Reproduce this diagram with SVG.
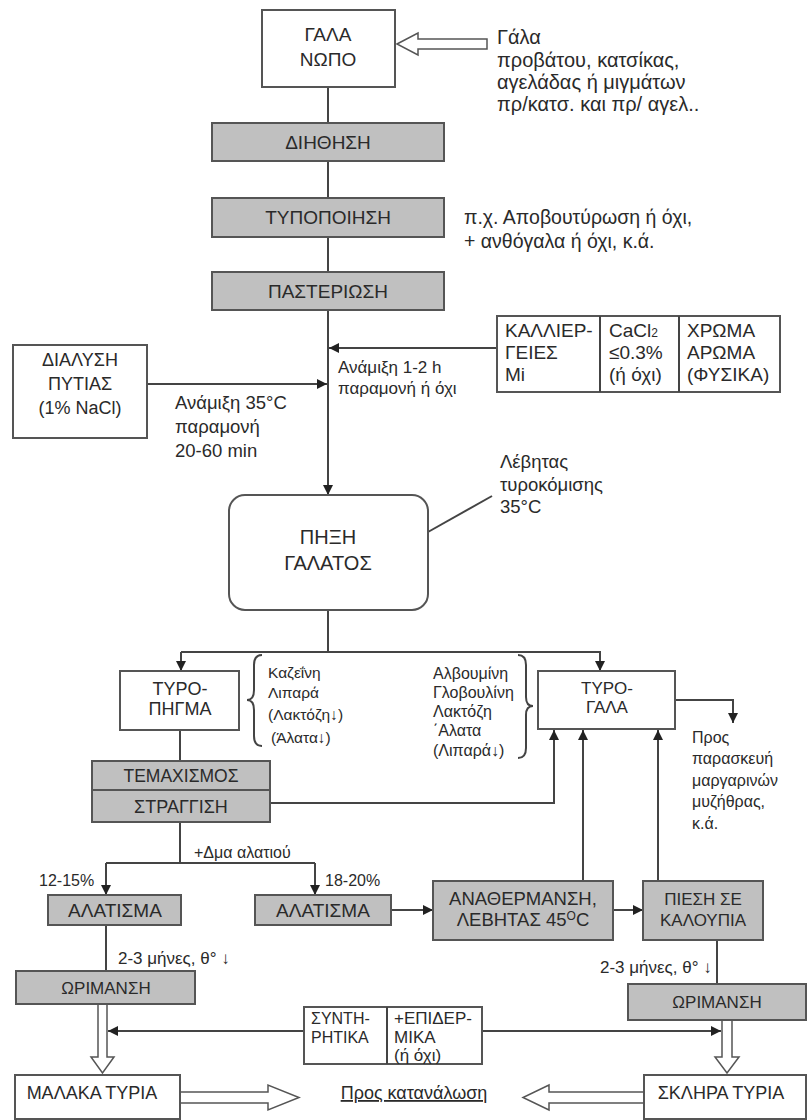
<svg xmlns="http://www.w3.org/2000/svg" width="808" height="1120" viewBox="0 0 808 1120">
<defs>
<style>
.box{fill:#fff;stroke:#555;stroke-width:2}
.gbox{fill:#c0c0c0;stroke:#555;stroke-width:2}
.ln{fill:none;stroke:#444;stroke-width:2}
.ha{fill:#fff;stroke:#555;stroke-width:1.5}
text{font-family:"Liberation Sans",Arial,sans-serif;fill:#2a2a2a}
.c{text-anchor:middle}
.b{font-size:19px}
.l{font-size:18px}
.m{font-size:17px}
.s{font-size:16px}
.xs{font-size:15px}
</style>
<marker id="ar" viewBox="0 0 10 10" refX="10" refY="5" markerWidth="10" markerHeight="10" markerUnits="userSpaceOnUse" orient="auto">
<path d="M0,0 L10,5 L0,10 z" fill="#222"/>
</marker>
</defs>

<g id="connectors">
<path class="ln" d="M328,87 V123"/>
<path class="ln" d="M328,161 V198"/>
<path class="ln" d="M328,237 V272"/>
<path class="ln" d="M328,310 V495" marker-end="url(#ar)"/>
<path class="ln" d="M497,348 H329" marker-end="url(#ar)"/>
<path class="ln" d="M147,384 H327" marker-end="url(#ar)"/>
<path class="ln" d="M428,532 L492,496"/>
<path class="ln" d="M328,610 V652 M181,652 H601"/>
<path class="ln" d="M181,652 V671" marker-end="url(#ar)"/>
<path class="ln" d="M600,652 V671" marker-end="url(#ar)"/>
<path class="ln" d="M180,730 V761"/>
<path class="ln" d="M270,803 H554 V730" marker-end="url(#ar)"/>
<path class="ln" d="M675,700 H733 V723" marker-end="url(#ar)"/>
<path class="ln" d="M180,822 V863 M106,863 H315"/>
<path class="ln" d="M106,863 V895" marker-end="url(#ar)"/>
<path class="ln" d="M315,863 V895" marker-end="url(#ar)"/>
<path class="ln" d="M391,910 H433" marker-end="url(#ar)"/>
<path class="ln" d="M613,910 H643" marker-end="url(#ar)"/>
<path class="ln" d="M583,881 V730" marker-end="url(#ar)"/>
<path class="ln" d="M658,881 V730" marker-end="url(#ar)"/>
<path class="ln" d="M106,925 V971"/>
<path class="ln" d="M717,940 V984"/>
<path class="ln" d="M304,1031 H108" marker-end="url(#ar)"/>
<path class="ln" d="M482,1031 H721" marker-end="url(#ar)"/>
<polygon class="ha" points="397,44 418,33 418,39 487,39 487,49 418,49 418,55"/>
<polygon class="ha" points="98,1004 107,1004 107,1057 114,1057 102.5,1073 91,1057 98,1057"/>
<polygon class="ha" points="722,1020 732,1020 732,1057 739,1057 727,1073 715,1057 722,1057"/>
<polygon class="ha" points="180,1092 268,1092 268,1085 299,1097.5 268,1110 268,1103 180,1103"/>
<polygon class="ha" points="644,1092 549,1092 549,1085 523,1097.5 549,1110 549,1103 644,1103"/>
<path class="ln" d="M262,655 Q254,655 254,665 L254,690 Q254,700 247,700 Q254,700 254,710 L254,736 Q254,746 262,746"/>
<path class="ln" d="M518,655 Q526,655 526,665 L526,697 Q526,706 533,706 Q526,706 526,715 L526,748 Q526,758 518,758"/>
</g>

<g id="gala-nopo">
<rect class="box" x="262" y="10" width="133" height="77"/>
<text class="c b" x="328" y="41">ΓΑΛΑ</text>
<text class="c b" x="328" y="66">ΝΩΠΟ</text>
</g>
<g id="gala-note" font-size="20">
<text x="497" y="44">Γάλα</text>
<text x="497" y="67">προβάτου, κατσίκας,</text>
<text x="497" y="89">αγελάδας ή μιγμάτων</text>
<text x="497" y="111">πρ/κατσ. και πρ/ αγελ..</text>
</g>
<g id="diithisi">
<rect class="gbox" x="212" y="123" width="232" height="38"/>
<text class="c b" x="328" y="149">ΔΙΗΘΗΣΗ</text>
</g>
<g id="typopoiisi">
<rect class="gbox" x="212" y="198" width="232" height="39"/>
<text class="c b" x="328" y="224">ΤΥΠΟΠΟΙΗΣΗ</text>
</g>
<g id="typopoiisi-note" font-size="19.5">
<text x="464" y="224">π.χ. Αποβουτύρωση ή όχι,</text>
<text x="464" y="248">+ ανθόγαλα ή όχι, κ.ά.</text>
</g>
<g id="pasteriosi">
<rect class="gbox" x="212" y="272" width="232" height="38"/>
<text class="c b" x="328" y="298">ΠΑΣΤΕΡΙΩΣΗ</text>
</g>
<g id="kallierges" font-size="19">
<rect class="box" x="497" y="316" width="283" height="76"/>
<path class="ln" d="M600,316 V392 M679,316 V392"/>
<text x="505" y="337">ΚΑΛΛΙΕΡ-</text>
<text x="505" y="359">ΓΕΙΕΣ</text>
<text x="505" y="381">Mi</text>
<text x="609" y="337">CaCl<tspan font-size="12">2</tspan></text>
<text x="609" y="359">≤0.3%</text>
<text x="609" y="381">(ή όχι)</text>
<text x="687" y="337">ΧΡΩΜΑ</text>
<text x="687" y="359">ΑΡΩΜΑ</text>
<text x="687" y="381">(ΦΥΣΙΚΑ)</text>
</g>
<g id="anamixi-note">
<text class="m" x="338" y="373">Ανάμιξη 1-2 h</text>
<text class="m" x="338" y="394">παραμονή ή όχι</text>
</g>
<g id="dialysi">
<rect class="box" x="13" y="345" width="134" height="93"/>
<text class="c l" x="80" y="366">ΔΙΑΛΥΣΗ</text>
<text class="c l" x="80" y="390">ΠΥΤΙΑΣ</text>
<text class="c l" x="80" y="414">(1% NaCl)</text>
</g>
<g id="dialysi-note" font-size="18.5">
<text x="175" y="409">Ανάμιξη 35°C</text>
<text x="175" y="433">παραμονή</text>
<text x="175" y="457">20-60 min</text>
</g>
<g id="pixi">
<rect class="box" x="229" y="495" width="199" height="115" rx="16"/>
<text class="c" font-size="20" x="328" y="544">ΠΗΞΗ</text>
<text class="c" font-size="20" x="328" y="570">ΓΑΛΑΤΟΣ</text>
</g>
<g id="levitas-note" font-size="18.5">
<text x="500" y="468">Λέβητας</text>
<text x="500" y="491">τυροκόμισης</text>
<text x="500" y="513">35°C</text>
</g>
<g id="tyropigma">
<rect class="box" x="120" y="671" width="119" height="59"/>
<text class="c l" x="180" y="695">ΤΥΡΟ-</text>
<text class="c l" x="180" y="715">ΠΗΓΜΑ</text>
</g>
<g id="tyropigma-note" font-size="15.5">
<text x="268" y="678">Καζεΐνη</text>
<text x="268" y="698">Λιπαρά</text>
<text x="268" y="720">(Λακτόζη↓)</text>
<text x="271" y="743">(Άλατα↓)</text>
</g>
<g id="tyrogala">
<rect class="box" x="538" y="671" width="137" height="58"/>
<text class="c m" x="607" y="694">ΤΥΡΟ-</text>
<text class="c m" x="607" y="713">ΓΑΛΑ</text>
</g>
<g id="tyrogala-note">
<text class="s" x="433" y="679">Αλβουμίνη</text>
<text class="s" x="433" y="698">Γλοβουλίνη</text>
<text class="s" x="433" y="717">Λακτόζη</text>
<text class="s" x="433" y="736">΄Αλατα</text>
<text class="s" x="433" y="756">(Λιπαρά↓)</text>
</g>
<g id="pros-paraskevi">
<text class="s" x="692" y="743">Προς</text>
<text class="s" x="692" y="764">παρασκευή</text>
<text class="s" x="692" y="786">μαργαρινών</text>
<text class="s" x="692" y="807">μυζήθρας,</text>
<text class="s" x="692" y="829">κ.ά.</text>
</g>
<g id="temaxismos">
<rect class="gbox" x="92" y="761" width="178" height="29"/>
<text class="c" font-size="17.5" x="181" y="782">ΤΕΜΑΧΙΣΜΟΣ</text>
</g>
<g id="straggisi">
<rect class="gbox" x="92" y="790" width="178" height="32"/>
<text class="c l" x="181" y="813">ΣΤΡΑΓΓΙΣΗ</text>
</g>
<g id="alati-labels">
<text class="s" x="194" y="858">+Δμα αλατιού</text>
<text class="s" x="39" y="886">12-15%</text>
<text class="s" x="325" y="886">18-20%</text>
</g>
<g id="alatisma-1">
<rect class="gbox" x="48" y="895" width="133" height="30"/>
<text class="c b" x="115" y="917">ΑΛΑΤΙΣΜΑ</text>
</g>
<g id="alatisma-2">
<rect class="gbox" x="255" y="895" width="136" height="30"/>
<text class="c b" x="323" y="917">ΑΛΑΤΙΣΜΑ</text>
</g>
<g id="anathermansi">
<rect class="gbox" x="433" y="881" width="180" height="59"/>
<text class="c" font-size="18.5" x="523" y="905">ΑΝΑΘΕΡΜΑΝΣΗ,</text>
<text class="c" font-size="18.5" x="523" y="926">ΛΕΒΗΤΑΣ 45<tspan font-size="12" dy="-6">O</tspan><tspan dy="6">C</tspan></text>
</g>
<g id="piesi">
<rect class="gbox" x="643" y="881" width="120" height="59"/>
<text class="c m" x="703" y="905">ΠΙΕΣΗ ΣΕ</text>
<text class="c m" x="703" y="926">ΚΑΛΟΥΠΙΑ</text>
</g>
<g id="months-labels">
<text class="m" x="118" y="964">2-3 μήνες, θ°  ↓</text>
<text class="m" x="600" y="973">2-3 μήνες, θ° ↓</text>
</g>
<g id="orimansi-1">
<rect class="gbox" x="16" y="971" width="179" height="33"/>
<text class="c m" x="106" y="994">ΩΡΙΜΑΝΣΗ</text>
</g>
<g id="orimansi-2">
<rect class="gbox" x="628" y="984" width="178" height="36"/>
<text class="c m" x="717" y="1008">ΩΡΙΜΑΝΣΗ</text>
</g>
<g id="syntiritika">
<rect class="box" x="304" y="1007" width="178" height="57"/>
<path class="ln" d="M387,1007 V1064"/>
<text class="s" x="311" y="1024">ΣΥΝΤΗ-</text>
<text class="s" x="311" y="1043">ΡΗΤΙΚΑ</text>
<text class="m" x="394" y="1024">+ΕΠΙΔΕΡ-</text>
<text class="m" x="394" y="1043">ΜΙΚΑ</text>
<text class="m" x="394" y="1061">(ή όχι)</text>
</g>
<g id="malaka">
<rect class="box" x="15" y="1075" width="165" height="44"/>
<text class="c l" x="92" y="1099">ΜΑΛΑΚΑ ΤΥΡΙΑ</text>
</g>
<g id="sklira">
<rect class="box" x="644" y="1075" width="162" height="44"/>
<text class="c l" x="721" y="1099">ΣΚΛΗΡΑ ΤΥΡΙΑ</text>
</g>
<g id="katanalosi">
<text class="c l" x="414" y="1099" text-decoration="underline">Προς κατανάλωση</text>
</g>
</svg>
